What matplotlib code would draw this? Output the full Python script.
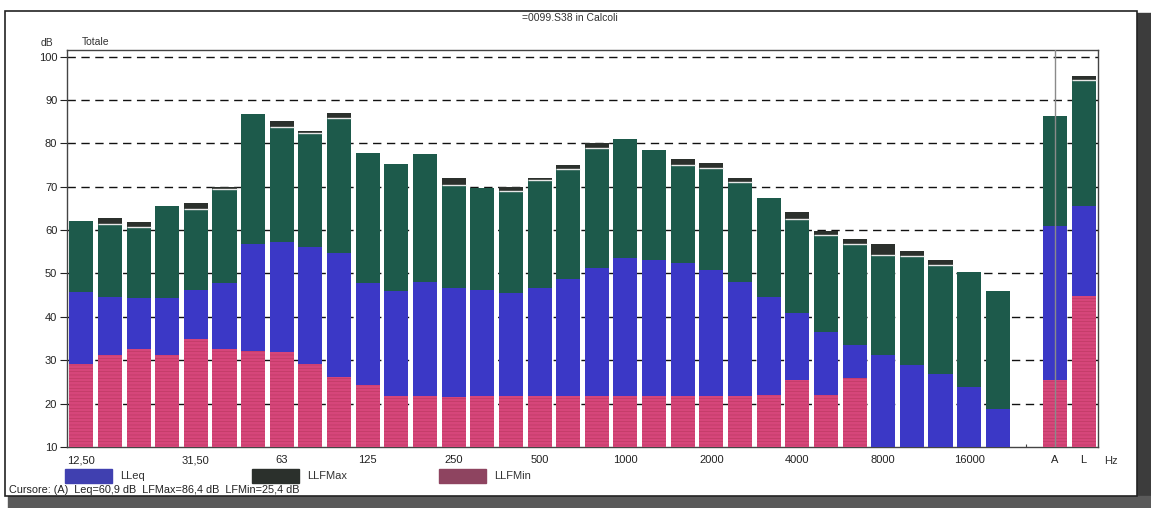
import numpy as np
import matplotlib.pyplot as plt
from matplotlib.patches import Rectangle

plt.rcParams['font.family'] = ['Liberation Sans', 'DejaVu Sans']
plt.rcParams['hatch.linewidth'] = 0.4

# bande 1/3 ottava 12,5 Hz - 20 kHz, poi slot vuoto, A e L
bands = ['12.5', '16', '20', '25', '31.5', '40', '50', '63', '80', '100', '125', '160',
         '200', '250', '315', '400', '500', '630', '800', '1000', '1250', '1600', '2000',
         '2500', '3150', '4000', '5000', '6300', '8000', '10000', '12500', '16000', '20000']
tick_labels = {0: '12,50', 4: '31,50', 7: '63', 10: '125', 13: '250', 16: '500', 19: '1000',
               22: '2000', 25: '4000', 28: '8000', 31: '16000', 34: 'A', 35: 'L'}

# livelli in dB (ultimi due valori: A e L)
lfmin = [29.2, 31.3, 32.7, 31.2, 35.0, 32.5, 32.1, 31.9, 29.2, 26.2, 24.2, 21.7,
         21.8, 21.5, 21.8, 21.8, 21.8, 21.8, 21.8, 21.8, 21.8, 21.8, 21.8, 21.8,
         21.9, 25.4, 21.9, 26.0, 9.0, 9.0, 9.0, 9.0, 9.0, 25.4, 44.8]
leq = [45.8, 44.5, 44.4, 44.4, 46.3, 47.9, 56.9, 57.3, 56.2, 54.6, 47.7, 46.0,
       48.1, 46.7, 46.2, 45.4, 46.7, 48.8, 51.3, 53.6, 53.1, 52.3, 50.8, 48.1,
       44.6, 40.8, 36.4, 33.5, 31.3, 28.8, 26.9, 23.8, 18.7, 60.9, 65.5]
lfmax = [62.1, 61.3, 60.6, 65.5, 64.8, 69.4, 86.8, 83.8, 82.3, 85.8, 77.8, 75.2,
         77.5, 70.5, 69.8, 69.0, 71.5, 74.0, 79.0, 81.1, 78.5, 75.0, 74.4, 71.1,
         67.5, 62.5, 58.8, 56.7, 54.2, 54.0, 51.9, 50.4, 46.0, 86.4, 94.5]
lfmax_top = [62.1, 62.7, 61.8, 65.5, 66.3, 70.0, 86.8, 85.2, 82.8, 86.9, 77.8, 75.2,
             77.5, 72.1, 69.8, 70.0, 72.1, 75.0, 80.0, 81.1, 78.5, 76.3, 75.4, 72.1,
             67.5, 64.1, 59.8, 57.9, 56.9, 55.2, 53.2, 50.4, 46.0, 86.4, 95.4]

pos = np.r_[np.arange(len(bands)), [34, 35]]
lfmin = np.array(lfmin)
leq = np.array(leq)
lfmax = np.array(lfmax)
lfmax_top = np.array(lfmax_top)

c_min, c_eq, c_max, c_top = '#d6467a', '#3b38c6', '#1d5a4b', '#2b302c'

W, H = 1151, 508
fig = plt.figure(figsize=(W / 100, H / 100), dpi=100)
fig.patch.set_facecolor('white')

# cornice con ombra
fig.patches.append(Rectangle((1137 / W, 0), 14 / W, 495 / H, transform=fig.transFigure,
                             color='#3c3c3c', zorder=0))
fig.patches.append(Rectangle((8 / W, 0), 1143 / W, 12 / H, transform=fig.transFigure,
                             color='#5a5a5a', zorder=0))
fig.patches.append(Rectangle((5 / W, 12 / H), 1132 / W, 485 / H, transform=fig.transFigure,
                             facecolor='white', edgecolor='#222222', lw=1.2, zorder=1))

ax = fig.add_axes([67 / W, 61 / H, 1031 / W, 397 / H])
ax.set_zorder(2)
ax.set_xlim(-0.5, 35.5)
ax.set_ylim(10, 101.5)

w = 0.84
ax.bar(pos, lfmin - 10, w, bottom=10, color=c_min, edgecolor='#b8365f', hatch='-----',
       lw=0, zorder=3)
ax.bar(pos, leq - lfmin, w, bottom=lfmin, color=c_eq, lw=0, zorder=3)
ax.bar(pos, lfmax - leq, w, bottom=leq, color=c_max, lw=0, zorder=3)
ax.bar(pos, lfmax_top - lfmax, w, bottom=lfmax, color=c_top, lw=0, zorder=3)
cap = lfmax_top - lfmax > 0.3
ax.hlines(lfmax[cap], pos[cap] - w / 2, pos[cap] + w / 2, color='#e8e8e8', lw=1, zorder=4)

# cursore sulla banda A
ax.axvline(34, color='#8a8a8a', lw=1, zorder=5)

for v in range(20, 101, 10):
    ax.axhline(v, color='#111111', lw=1, ls=(0, (6, 4)), zorder=1)

ax.set_yticks(range(10, 101, 10))
ax.set_xticks(list(tick_labels.keys()))
ax.set_xticklabels(list(tick_labels.values()))
ax.set_xticks(np.arange(36), minor=True)
ax.tick_params(axis='y', direction='out', length=5, width=0.8, labelsize=8, pad=2,
               colors='#222222')
ax.tick_params(axis='x', which='major', length=0, labelsize=8, pad=6, colors='#222222')
ax.tick_params(axis='x', which='minor', direction='in', length=2, width=0.8, color='#444444')
for s in ax.spines.values():
    s.set_color('#444444')
    s.set_linewidth(1)

fig.text(570 / W, 1 - 18 / H, '=0099.S38 in Calcoli', ha='center', va='center', fontsize=7.5,
         color='#333333')
fig.text(47 / W, 1 - 43 / H, 'dB', ha='center', va='center', fontsize=7.5, color='#333333')
fig.text(82 / W, 1 - 42 / H, 'Totale', ha='left', va='center', fontsize=7.5, color='#333333')
fig.text(1111 / W, 1 - 461 / H, 'Hz', ha='center', va='center', fontsize=8, color='#333333')

# legenda
for x0, col, name in [(65, '#4040b0', 'LLeq'), (252, c_top, 'LLFMax'), (439, '#8e4460', 'LLFMin')]:
    fig.patches.append(Rectangle((x0 / W, 1 - 483 / H), 47 / W, 14 / H,
                                 transform=fig.transFigure, color=col, zorder=3))
    fig.text((x0 + 55) / W, 1 - 476 / H, name, ha='left', va='center', fontsize=8,
             color='#333333')

fig.text(9 / W, 1 - 490 / H, 'Cursore: (A)  Leq=60,9 dB  LFMax=86,4 dB  LFMin=25,4 dB',
         ha='left', va='center', fontsize=7.8, color='#222222')

fig.savefig('out.png', dpi=100)
